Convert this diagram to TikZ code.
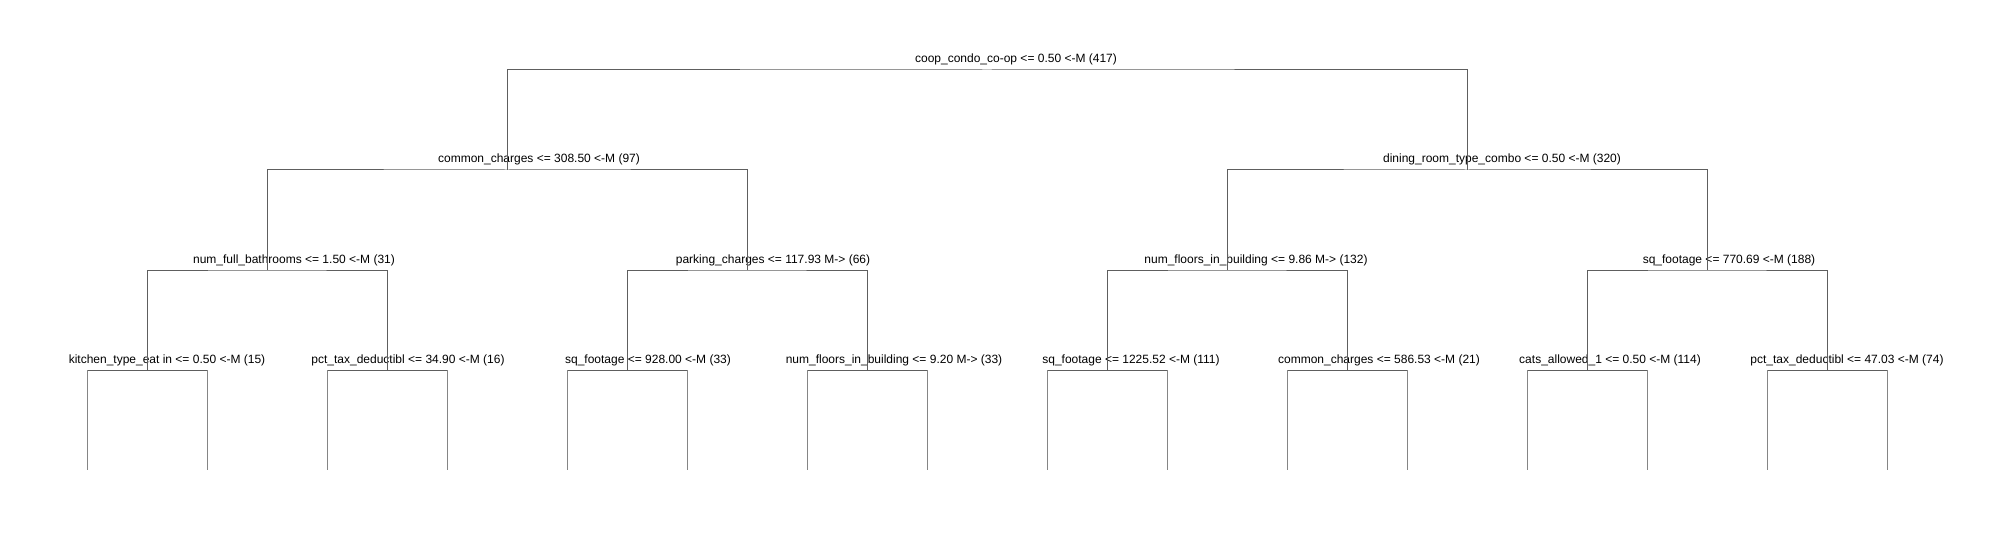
\documentclass[tikz,border=0pt]{standalone}
\usepackage{fontspec}
\setmainfont{Liberation Sans}
\definecolor{edgegray}{rgb}{0.37,0.37,0.37}
\definecolor{leafgray}{rgb}{0.52,0.52,0.52}
\tikzset{
  lbl/.style={anchor=base, inner sep=0pt, font=\fontsize{12}{14}\selectfont, text=black},
  edge/.style={draw=edgegray, line width=1pt},
  leafedge/.style={draw=leafgray, line width=1pt}
}
\begin{document}
\begin{tikzpicture}[x=1pt, y=-1pt]
\useasboundingbox (0,0) rectangle (2013,540);
% split points
\coordinate (r) at (987,70);
\coordinate (a) at (507,170);
\coordinate (b) at (1467,170);
\coordinate (aa) at (267,270);
\coordinate (ab) at (747,270);
\coordinate (ba) at (1227,270);
\coordinate (bb) at (1707,270);
\coordinate (aaa) at (147,370);
\coordinate (aab) at (387,370);
\coordinate (aba) at (627,370);
\coordinate (abb) at (867,370);
\coordinate (baa) at (1107,370);
\coordinate (bab) at (1347,370);
\coordinate (bba) at (1587,370);
\coordinate (bbb) at (1827,370);
% leaves
\foreach \i in {0,...,15} {
  \coordinate (l\i) at ({87+120*\i},470);
}
% labels
\node[lbl] (tr) at (1016,63) {coop\_condo\_co-op <= 0.50 <-M (417)};
\node[lbl] (ta) at (539,163) {common\_charges <= 308.50 <-M (97)};
\node[lbl] (tb) at (1502,163) {dining\_room\_type\_combo <= 0.50 <-M (320)};
\node[lbl] (taa) at (294,263) {num\_full\_bathrooms <= 1.50 <-M (31)};
\node[lbl] (tab) at (773,263) {parking\_charges <= 117.93 M-> (66)};
\node[lbl] (tba) at (1256,263) {num\_floors\_in\_building <= 9.86 M-> (132)};
\node[lbl] (tbb) at (1729,263) {sq\_footage <= 770.69 <-M (188)};
\node[lbl] (taaa) at (167,363) {kitchen\_type\_eat in <= 0.50 <-M (15)};
\node[lbl] (taab) at (408,363) {pct\_tax\_deductibl <= 34.90 <-M (16)};
\node[lbl] (taba) at (648,363) {sq\_footage <= 928.00 <-M (33)};
\node[lbl] (tabb) at (894,363) {num\_floors\_in\_building <= 9.20 M-> (33)};
\node[lbl] (tbaa) at (1131,363) {sq\_footage <= 1225.52 <-M (111)};
\node[lbl] (tbab) at (1379,363) {common\_charges <= 586.53 <-M (21)};
\node[lbl] (tbba) at (1610,363) {cats\_allowed\_1 <= 0.50 <-M (114)};
\node[lbl] (tbbb) at (1847,363) {pct\_tax\_deductibl <= 47.03 <-M (74)};
% connectors
\draw[edge] (a) |- (r) -| (b);
\draw[edge] (aa) |- (a) -| (ab);
\draw[edge] (ba) |- (b) -| (bb);
\draw[edge] (aaa) |- (aa) -| (aab);
\draw[edge] (aba) |- (ab) -| (abb);
\draw[edge] (baa) |- (ba) -| (bab);
\draw[edge] (bba) |- (bb) -| (bbb);
% leaf connectors
\foreach \p/\x/\y in {aaa/0/1, aab/2/3, aba/4/5, abb/6/7, baa/8/9, bab/10/11, bba/12/13, bbb/14/15} {
  \draw[edge] (l\x |- \p) -- (l\y |- \p);
  \draw[leafedge] (l\x |- \p) -- (l\x);
  \draw[leafedge] (l\y |- \p) -- (l\y);
}
\end{tikzpicture}
\end{document}
